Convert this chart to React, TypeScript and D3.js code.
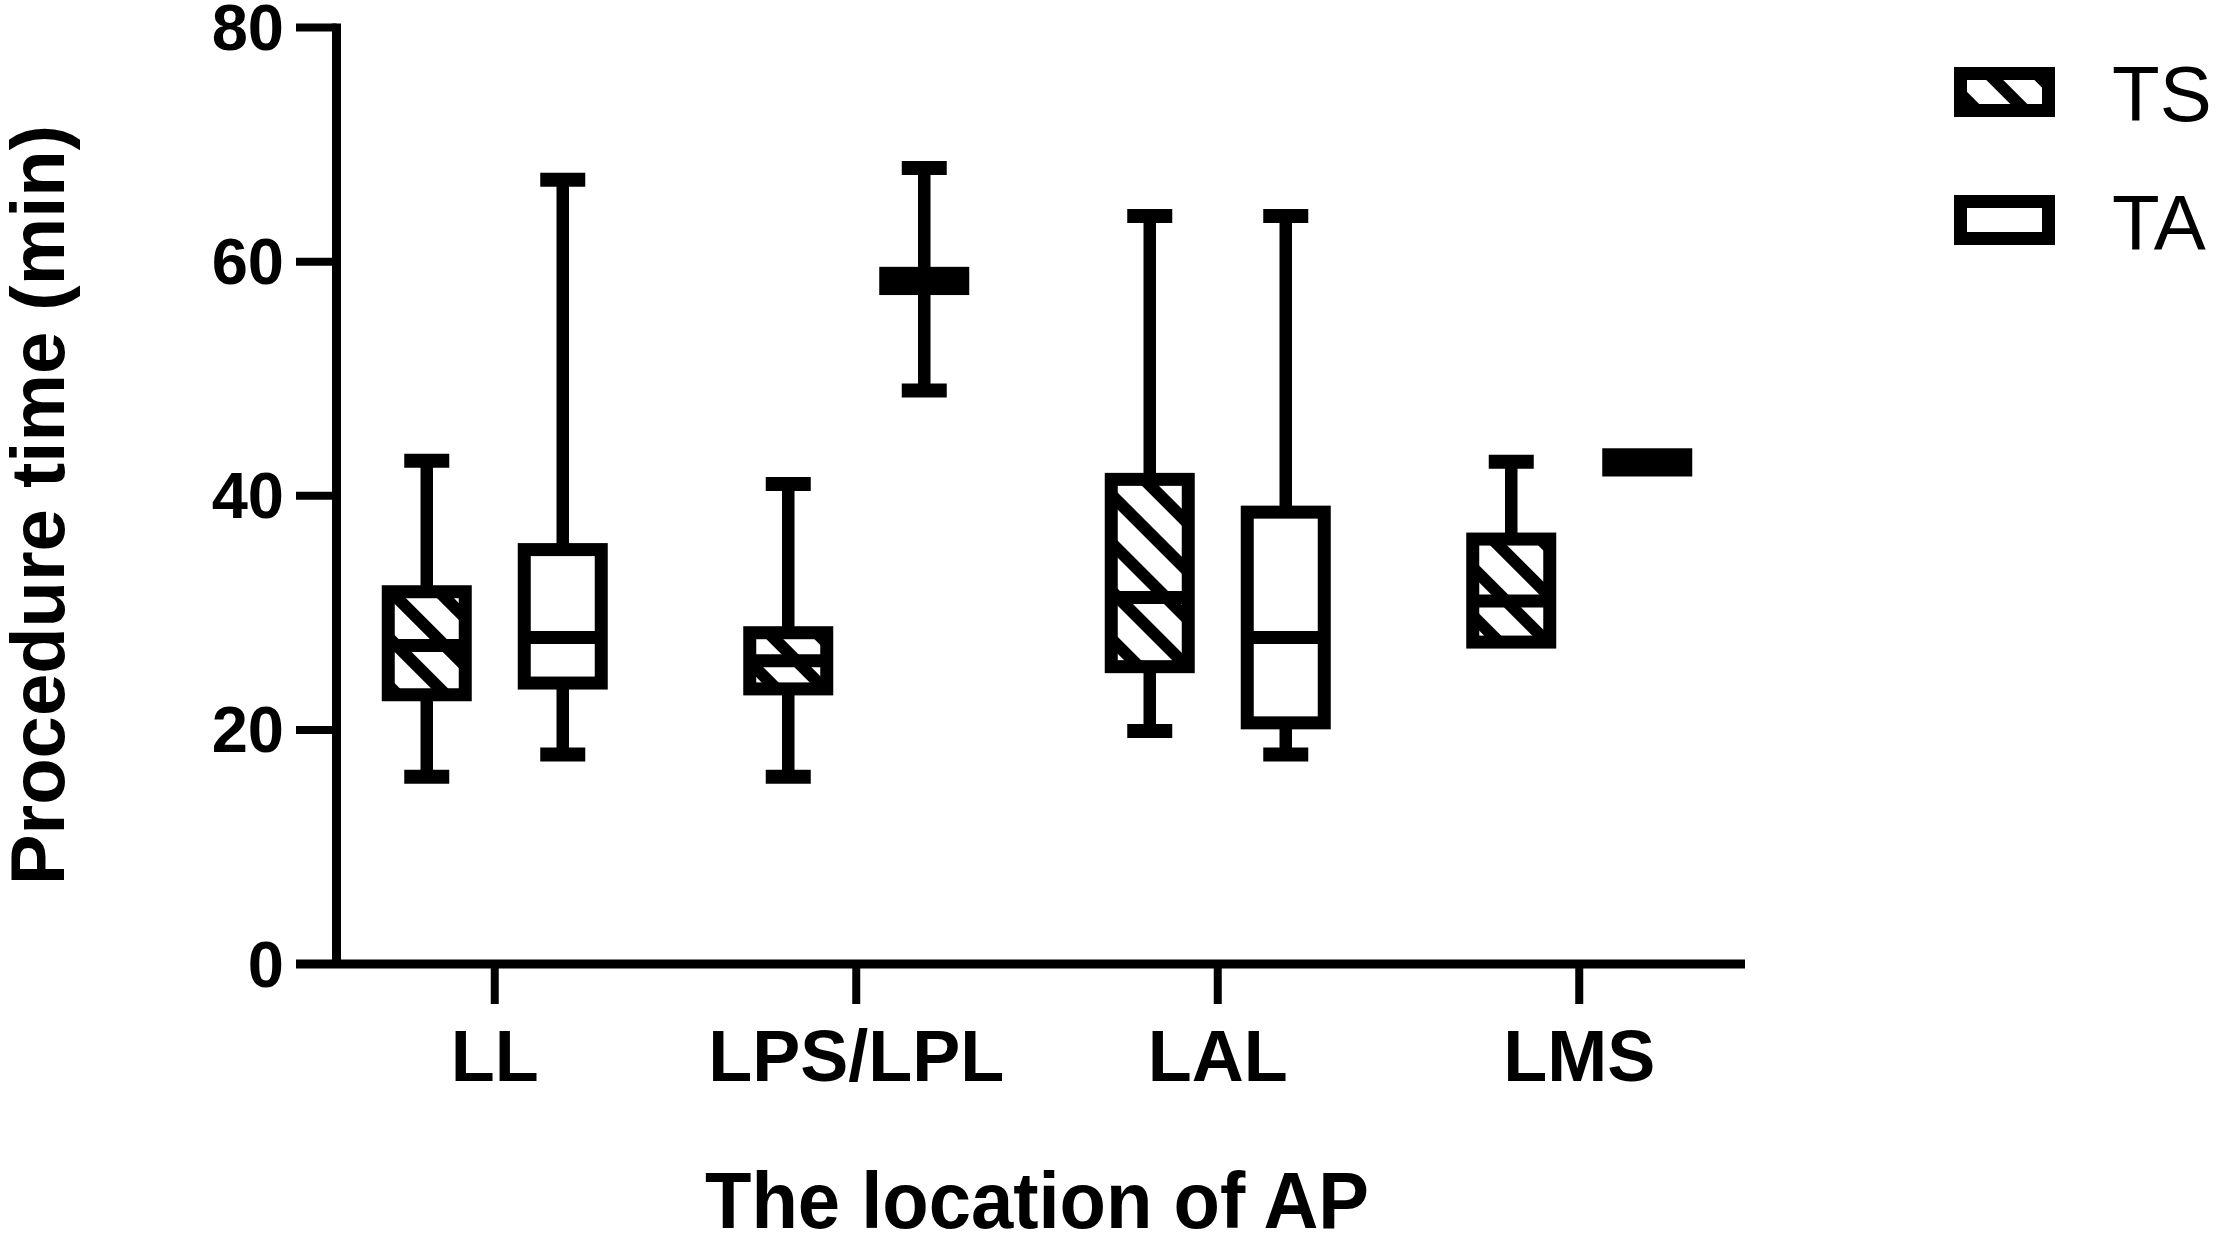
import * as d3 from "d3";

// categories and groups
const categories = ["LL", "LPS/LPL", "LAL", "LMS"];
const groups = ["TS", "TA"];

// box statistics per category (min, q1, median, q3, max)
const tsMin = [16, 16, 19.9, 27.5];
const tsQ1 = [23, 23.5, 25.4, 27.5];
const tsMed = [27.2, 25.9, 31.3, 31];
const tsQ3 = [31.8, 28.3, 41.4, 36.3];
const tsMax = [43, 41, 63.9, 42.9];

const taMin = [17.9, 49, 17.9, 42.2];
const taQ1 = [24, 57.7, 20.6, 42.2];
const taMed = [27.9, 58.3, 27.9, 42.8];
const taQ3 = [35.4, 59, 38.6, 43.5];
const taMax = [67, 68, 63.9, 43.5];

const yTicks = [0, 20, 40, 60, 80];

const W = 2217, H = 1244;
const FONT = "'Liberation Sans', Arial, sans-serif";

type Box = {cat: string; grp: string; min: number; q1: number; med: number; q3: number; max: number};

const boxes: Box[] = [];
categories.forEach((c, i) => {
    boxes.push({cat: c, grp: "TS", min: tsMin[i], q1: tsQ1[i], med: tsMed[i], q3: tsQ3[i], max: tsMax[i]});
    boxes.push({cat: c, grp: "TA", min: taMin[i], q1: taQ1[i], med: taMed[i], q3: taQ3[i], max: taMax[i]});
});

export default function App() {
    const y = d3.scaleLinear().domain([0, 80]).range([964, 27.5]);
    const x = d3.scaleBand().domain(categories).range([314, 1760]);
    const xSub = d3.scalePoint().domain(groups).range([-68, 68]);

    const axisX0 = 336.5, axisX1 = 1745;
    const boxW = 77, capW = 45, sw = 13;

    const cx = (b: Box) => (x(b.cat) as number) + x.bandwidth() / 2 + (xSub(b.grp) as number);

    return (
        <svg width={W} height={H} style={{position: "absolute", left: 0, top: 0, background: "#fff"}}>
            <defs>
                <pattern id="hatch" patternUnits="userSpaceOnUse" width={34} height={34}
                         patternTransform="rotate(45)">
                    <rect width={34} height={34} fill="#fff"/>
                    <rect y={0} width={34} height={12} fill="#000"/>
                </pattern>
            </defs>

            {/* y axis */}
            <line x1={axisX0} x2={axisX0} y1={y(80) - 4} y2={y(0)} stroke="#000" strokeWidth={9}/>
            {yTicks.map(t => (
                <g key={t}>
                    <line x1={296} x2={axisX0} y1={y(t)} y2={y(t)} stroke="#000" strokeWidth={8}/>
                    <text x={284} y={y(t)} textAnchor="end" dominantBaseline="central"
                          fontFamily={FONT} fontWeight="bold" fontSize={65}>{t}</text>
                </g>
            ))}

            {/* x axis */}
            <line x1={296} x2={axisX1} y1={y(0)} y2={y(0)} stroke="#000" strokeWidth={9}/>
            {categories.map(c => {
                const px = (x(c) as number) + x.bandwidth() / 2;
                return (
                    <g key={c}>
                        <line x1={px} x2={px} y1={y(0)} y2={y(0) + 40} stroke="#000" strokeWidth={8}/>
                        <text x={px} y={1081} textAnchor="middle" fontFamily={FONT} fontWeight="bold"
                              fontSize={72}>{c}</text>
                    </g>
                );
            })}

            {/* boxes */}
            {boxes.map((b, i) => {
                const c = cx(b);
                const fill = b.grp === "TS" ? "url(#hatch)" : "#fff";
                return (
                    <g key={i} stroke="#000">
                        {b.max > b.q3 && (
                            <>
                                <line x1={c} x2={c} y1={y(b.q3)} y2={y(b.max)} strokeWidth={12.5}/>
                                <line x1={c - capW / 2} x2={c + capW / 2} y1={y(b.max)} y2={y(b.max)}
                                      strokeWidth={14}/>
                            </>
                        )}
                        {b.min < b.q1 && (
                            <>
                                <line x1={c} x2={c} y1={y(b.q1)} y2={y(b.min)} strokeWidth={12.5}/>
                                <line x1={c - capW / 2} x2={c + capW / 2} y1={y(b.min)} y2={y(b.min)}
                                      strokeWidth={14}/>
                            </>
                        )}
                        <rect x={c - boxW / 2} width={boxW} y={y(b.q3)} height={y(b.q1) - y(b.q3)}
                              fill={fill} strokeWidth={sw}/>
                        <line x1={c - boxW / 2} x2={c + boxW / 2} y1={y(b.med)} y2={y(b.med)} strokeWidth={sw}/>
                    </g>
                );
            })}

            {/* legend */}
            {groups.map((g, i) => (
                <g key={g}>
                    <rect x={1960.5} y={73.5 + i * 128} width={88} height={37}
                          fill={g === "TS" ? "url(#hatch)" : "#fff"} stroke="#000" strokeWidth={sw}/>
                    <text x={2112} y={121 + i * 129} fontFamily={FONT} fontSize={78}>{g}</text>
                </g>
            ))}

            {/* axis titles */}
            <text x={1037} y={1228} textAnchor="middle" fontFamily={FONT} fontWeight="bold" fontSize={79}
                  textLength={664} lengthAdjust="spacingAndGlyphs">The location of AP</text>
            <text transform="translate(64,505) rotate(-90)" textAnchor="middle" fontFamily={FONT}
                  fontWeight="bold" fontSize={76}>Procedure time (min)</text>
        </svg>
    );
}
